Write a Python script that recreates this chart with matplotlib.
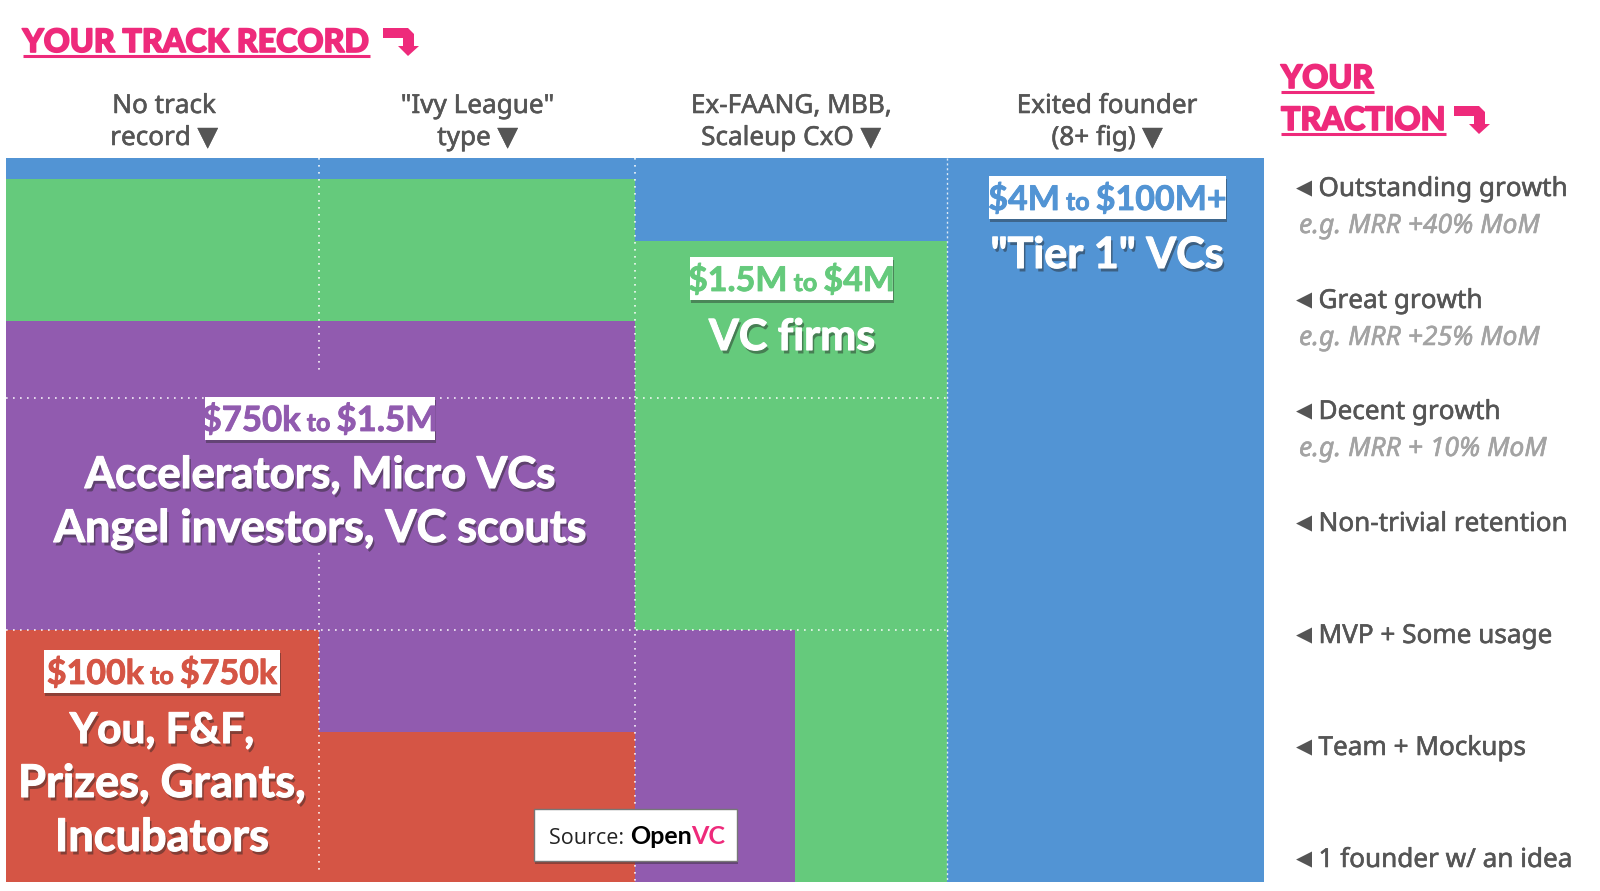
import matplotlib
matplotlib.use("Agg")
import matplotlib.pyplot as plt
import matplotlib.patheffects as pe
from matplotlib.patches import Rectangle, Polygon

W, H = 1600, 891
column_widths = [313, 316, 159.5, 152, 317.5]
red = [34.8, 20.7, 0, 0, 0]
purple = [42.7, 56.8, 34.8, 0, 0]
green = [19.6, 19.6, 53.8, 88.6, 0]
blue = [2.9, 2.9, 11.4, 11.4, 100]
series = [("red", red, "#D55545"), ("purple", purple, "#915BAF"),
          ("green", green, "#65CA7C"), ("blue", blue, "#5294D4")]
track_labels = [("No track", "record", 164), ('"Ivy League"', "type", 477.5),
                ("Ex-FAANG, MBB,", "Scaleup CxO", 791), ("Exited founder", "(8+ fig)", 1107)]
traction = [("Outstanding growth", "e.g. MRR +40% MoM", 196, 233),
            ("Great growth", "e.g. MRR +25% MoM", 308, 345),
            ("Decent growth", "e.g. MRR + 10% MoM", 419, 456),
            ("Non-trivial retention", None, 531, None),
            ("MVP + Some usage", None, 643, None),
            ("Team + Mockups", None, 755, None),
            ("1 founder w/ an idea", None, 867, None)]
PINK, GREY, LGREY = "#EE2A7B", "#555555", "#A3A3A3"
HEAD = "Noto Sans"
BIG = "Lato"

fig = plt.figure(figsize=(W / 100, H / 100), dpi=100, facecolor="white")
ax = fig.add_axes([6 / W, 1 - 882 / H, 1258 / W, 724 / H])
left = 0
for i, w in enumerate(column_widths):
    bottom = 0
    for name, vals, col in series:
        if vals[i]:
            ax.bar(left, vals[i], w, bottom=bottom, align="edge", color=col, lw=0)
        bottom += vals[i]
    left += w
ax.set_xlim(0, sum(column_widths))
ax.set_ylim(0, 100)
ax.axis("off")

ov = fig.add_axes([0, 0, 1, 1], facecolor="none")
ov.set_xlim(0, W)
ov.set_ylim(H, 0)
ov.axis("off")
rend = fig.canvas.get_renderer()
dots = dict(color="white", lw=1.2, ls=(0, (1, 3.2)), alpha=.9)
ov.plot([319.3, 319.3], [158, 375], **dots)
ov.plot([319.3, 319.3], [553, 872], **dots)
ov.plot([635.2, 635.2], [158, 882], **dots)
ov.plot([946.5, 946.5], [158, 882], color="white", lw=1, ls=(0, (1.5, 2)), alpha=.8)
ov.plot([6, 947], [398, 398], **dots)
ov.plot([6, 947], [630, 630], **dots)
shadow = [pe.SimplePatchShadow(offset=(1.5, -2.5), shadow_rgbFace="#222222", alpha=.45),
          pe.Stroke(linewidth=0.8, foreground="white"), pe.Normal()]
thick = lambda c, w: [pe.Stroke(linewidth=w, foreground=c), pe.Normal()]

def runs(x, y, parts, ha="center", stroke=0):
    ts = []
    total = 0
    for s, size, col, fam, wt, sty in parts:
        t = ov.text(0, y, s, fontsize=size, color=col, family=fam, weight=wt, style=sty, va="baseline", ha="left", zorder=6)
        if stroke:
            t.set_path_effects(thick(col, stroke))
        wd = t.get_window_extent(rend).width
        ts.append((t, wd))
        total += wd
    cur = x - total / 2 if ha == "center" else x
    for t, wd in ts:
        t.set_x(cur)
        cur += wd
    return total

def box(x0, x1, y0, y1, **kw):
    ov.add_patch(Rectangle((x0 + 1, y0 + 2.5), x1 - x0, y1 - y0, fc="#222222", alpha=.4, lw=0, zorder=4))
    ov.add_patch(Rectangle((x0, y0), x1 - x0, y1 - y0, fc="white", zorder=5, **kw))

def price(x0, x1, y0, y1, a, b, col, base, size=25):
    box(x0, x1, y0, y1, lw=0)
    runs((x0 + x1) / 2, base, [(a, size, col, BIG, "bold", "normal"), (" to ", 18, col, BIG, "bold", "normal"),
                               (b, size, col, BIG, "bold", "normal")], stroke=0.6)

def big(cx, base, s, size):
    ov.text(cx, base, s, fontsize=size, color="white", family=BIG, weight="bold", ha="center", va="baseline",
            path_effects=shadow, zorder=6)

price(204.5, 435, 397, 440, "$750k", "$1.5M", "#915BAF", 431)
price(690, 893, 257, 300, "$1.5M", "$4M", "#65CA7C", 291, 24.5)
price(989, 1226, 176, 219, "$4M", "$100M+", "#5294D4", 210, 24.5)
price(44, 280, 650, 693, "$100k", "$750k", "#D55545", 684, 24.5)
big(1107, 268, '"Tier 1" VCs', 31)
big(792, 350, "VC firms", 31)
big(320, 488, "Accelerators, Micro VCs", 31.5)
big(320, 542, "Angel investors, VC scouts", 32.4)
big(162, 743, "You, F&F,", 30.5)
big(162, 797, "Prizes, Grants,", 32.5)
big(162, 851, "Incubators", 32.5)

box(534, 737, 809, 861, lw=1, ec="#777777")
runs(549, 844, [("Source: ", 15.5, "#222222", "Open Sans", "normal", "normal"),
                ("Open", 18, "black", "Lato", "bold", "normal"),
                ("VC", 18, PINK, "Lato", "bold", "normal")], ha="left")

def title(x, base, s):
    t = ov.text(x, base, s, fontsize=23.2, color=PINK, family=BIG, weight="black", ha="left", va="baseline",
                path_effects=thick(PINK, 1.2))
    w = t.get_window_extent(rend).width
    ov.plot([x, x + w], [base + 4, base + 4], color=PINK, lw=2.2, solid_capstyle="butt")
    return w

def bent(x0, y0):
    pts = [(0, 0), (25, 0), (31, 6), (31, 18), (36, 18), (25, 28), (15, 18), (20, 18), (20, 10), (0, 10)]
    ov.add_patch(Polygon([(x0 + a, y0 + b) for a, b in pts], fc=PINK, lw=0))

title(22.5, 52, "YOUR TRACK RECORD")
bent(383, 28)
title(1281, 88, "YOUR")
title(1281, 130, "TRACTION")
bent(1454, 106)

for l1, l2, cx in track_labels:
    ov.text(cx, 113, l1, fontsize=18.8, color=GREY, family=HEAD, weight="medium", ha="center", va="baseline",
            path_effects=thick(GREY, 0.4))
    runs(cx, 145, [(l2 + " ", 18.8, GREY, HEAD, "medium", "normal"), ("▼", 19, GREY, "DejaVu Sans", "normal", "normal")], stroke=0.4)

for main, sub, y1, y2 in traction:
    ov.text(1296, y1 - 2, "◀", fontsize=15, color=GREY, family="DejaVu Sans", ha="left", va="baseline")
    ov.text(1318.5, y1, main, fontsize=18.8, color=GREY, family=HEAD, weight="medium", ha="left", va="baseline",
            path_effects=thick(GREY, 0.4))
    if sub:
        ov.text(1299, y2, sub, fontsize=19.1, color=LGREY, family=HEAD, weight="medium", style="italic", ha="left", va="baseline",
                path_effects=thick(LGREY, 0.4))

fig.savefig("out.png", dpi=100)
